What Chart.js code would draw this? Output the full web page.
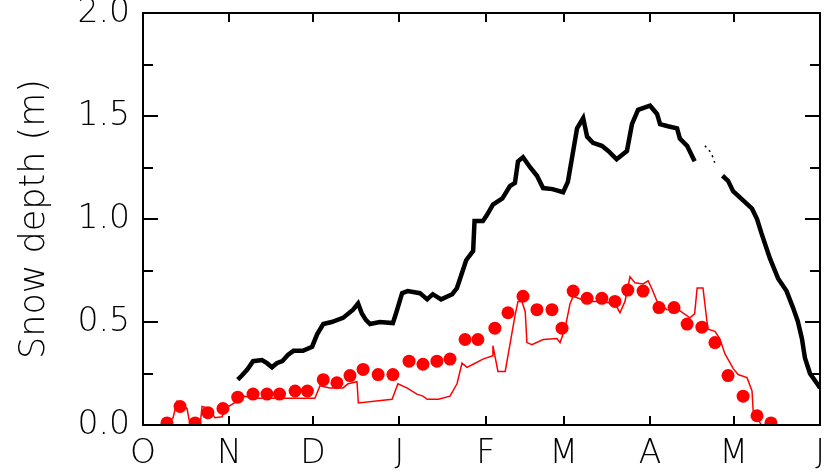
<!DOCTYPE html>
<html lang="en">
<head>
<meta charset="UTF-8">
<title>Snow depth</title>
<script src="https://cdn.jsdelivr.net/npm/chart.js"></script>
<style>
  body { margin: 0; background: #fff; }
</style>
</head>
<body>
<canvas id="snowChart" width="827" height="476"></canvas>
<script>
// days since 1 October, month boundaries
const monthDays = [0, 31, 61, 92, 123, 151, 182, 212, 243];
const monthLabels = ['O', 'N', 'D', 'J', 'F', 'M', 'A', 'M', 'J'];
const depthTicks = [0, 0.5, 1.0, 1.5, 2.0];

// black: measured snow depth (m), gap near the end of April
const obsDays = [34, 35.5, 37.5, 39.5, 42.7, 44.5, 46.3, 48, 50, 52, 54, 57.4, 60.7, 62.5, 64.7, 67.7, 71.8, 75.4, 77.2, 78.6, 80, 81.5, 85, 89.7, 91, 93, 95, 99.4, 102, 104, 107, 111, 112.7, 113.8, 116, 118.5, 119, 122, 123.5, 125.6, 129, 131.7, 133.5, 134.6, 136.4, 139, 141.4, 143.6, 147, 150.8, 152.5, 154.4, 155.8, 158, 159.4, 161.5, 164.7, 167, 170, 173.7, 175.5, 177.7, 182, 184.5, 185.6, 188.4, 191.7, 192.7, 195.3, 198, 200, 208, 210, 211.8, 215.4, 218.6, 220.4, 222, 225, 228, 231, 233.3, 235, 236.5, 237.6, 239.4, 242, 243];
const obsDepth = [0.22, 0.24, 0.27, 0.31, 0.315, 0.30, 0.28, 0.30, 0.31, 0.34, 0.36, 0.36, 0.38, 0.44, 0.49, 0.50, 0.52, 0.56, 0.59, 0.54, 0.51, 0.49, 0.50, 0.495, 0.55, 0.64, 0.65, 0.64, 0.61, 0.635, 0.61, 0.635, 0.665, 0.71, 0.80, 0.845, 0.99, 0.99, 1.02, 1.07, 1.10, 1.16, 1.175, 1.28, 1.30, 1.25, 1.21, 1.15, 1.145, 1.13, 1.18, 1.33, 1.44, 1.49, 1.40, 1.37, 1.355, 1.33, 1.29, 1.33, 1.46, 1.53, 1.55, 1.51, 1.46, 1.45, 1.44, 1.39, 1.355, 1.28, null, 1.21, 1.185, 1.135, 1.09, 1.05, 1.00, 0.93, 0.81, 0.71, 0.65, 0.57, 0.505, 0.42, 0.325, 0.25, 0.20, 0.18];
// sparse dotted bit inside the gap
const gapDays = [201.7, 204, 205.3];
const gapDepth = [1.355, 1.32, 1.27];

// red line: modelled depth
const modelDays = [6.8, 10.8, 12.2, 15.8, 16.9, 20.5, 21.2, 24, 25.8, 28.4, 29.4, 33.7, 36, 40.9, 58.9, 61.7, 63.5, 67, 71.8, 73.6, 76.8, 77.3, 89.4, 91.5, 94.7, 98.3, 100.5, 102, 106, 110.2, 112.7, 114.5, 116.3, 118.5, 122, 125.3, 125.6, 127.4, 130, 131.7, 133.5, 134.6, 136, 137.2, 137.8, 139.6, 143.6, 148.6, 149.7, 151.5, 153.3, 154.4, 159.4, 164, 169.4, 171.2, 173, 174.8, 176.6, 179.5, 181.3, 182.7, 184.5, 188, 192.7, 196.3, 198, 198.9, 201, 202.4, 202.8, 205.3, 207, 208.9, 211.8, 213.6, 216.8, 218.6, 219, 221.5, 222];
const modelDepth = [0, 0.035, 0.115, 0.08, 0, 0, 0.09, 0.08, 0.035, 0.04, 0.08, 0.115, 0.14, 0.13, 0.13, 0.13, 0.19, 0.18, 0.18, 0.2, 0.21, 0.107, 0.125, 0.2, 0.18, 0.15, 0.14, 0.125, 0.125, 0.14, 0.2, 0.3, 0.28, 0.295, 0.32, 0.335, 0.385, 0.26, 0.26, 0.39, 0.53, 0.6, 0.6, 0.55, 0.40, 0.39, 0.415, 0.42, 0.40, 0.47, 0.59, 0.625, 0.60, 0.60, 0.59, 0.545, 0.60, 0.72, 0.69, 0.685, 0.70, 0.66, 0.60, 0.56, 0.555, 0.52, 0.54, 0.665, 0.665, 0.505, 0.465, 0.455, 0.42, 0.345, 0.275, 0.245, 0.23, 0.165, 0.07, 0.01, 0];

// red dots: snow survey
const surveyDays = [8.6, 13.3, 18.7, 23.3, 28.7, 34, 39.5, 44.5, 49, 54.6, 59, 64.7, 69.6, 74.3, 79, 84.4, 89.7, 95.5, 100.5, 105.5, 110.2, 115.6, 120.2, 126.3, 131, 136.4, 141.4, 146.8, 150.4, 154.4, 159.4, 164.7, 169.4, 174, 179.5, 185.2, 190.6, 195.3, 200.6, 205.3, 210, 215.4, 220.4, 225.4];
const surveyDepth = [0.01, 0.09, 0.01, 0.06, 0.08, 0.135, 0.15, 0.15, 0.15, 0.165, 0.165, 0.22, 0.205, 0.24, 0.27, 0.245, 0.245, 0.31, 0.295, 0.31, 0.32, 0.415, 0.415, 0.47, 0.545, 0.625, 0.56, 0.56, 0.47, 0.65, 0.615, 0.615, 0.60, 0.655, 0.65, 0.57, 0.57, 0.49, 0.475, 0.40, 0.24, 0.14, 0.045, 0.01];

const pts = (xs, ys) => xs.map((x, i) => ({ x: x, y: ys[i] }));

const fontFamily = "'DejaVu Sans', sans-serif";

// frame with inward ticks on all four sides
const framePlugin = {
  id: 'frame',
  afterDatasetsDraw(chart) {
    const { ctx, chartArea: a, scales } = chart;
    ctx.save();
    ctx.strokeStyle = '#000';
    ctx.lineWidth = 2;
    ctx.strokeRect(a.left, a.top, a.right - a.left, a.bottom - a.top);
    ctx.beginPath();
    monthDays.forEach(d => {
      const px = Math.round(scales.x.getPixelForValue(d));
      ctx.moveTo(px, a.bottom); ctx.lineTo(px, a.bottom - 9);
      ctx.moveTo(px, a.top); ctx.lineTo(px, a.top + 9);
    });
    for (let v = 0.25; v < 2; v += 0.25) {
      const py = Math.round(scales.y.getPixelForValue(v));
      const len = (Math.abs(v * 2 - Math.round(v * 2)) < 1e-6) ? 15 : 10;
      ctx.moveTo(a.left, py); ctx.lineTo(a.left + len, py);
      ctx.moveTo(a.right, py); ctx.lineTo(a.right - len, py);
    }
    ctx.stroke();
    ctx.restore();
  }
};

const ctx = document.getElementById('snowChart').getContext('2d');
new Chart(ctx, {
  type: 'scatter',
  data: {
    datasets: [
      {
        label: 'model',
        data: pts(modelDays, modelDepth),
        showLine: true,
        borderColor: '#ff0000',
        borderWidth: 1.5,
        pointRadius: 0,
        tension: 0
      },
      {
        label: 'survey',
        data: pts(surveyDays, surveyDepth),
        showLine: false,
        backgroundColor: '#ff0000',
        borderColor: '#ff0000',
        pointRadius: 6.5,
        pointBorderWidth: 0
      },
      {
        label: 'observed',
        data: pts(obsDays, obsDepth),
        showLine: true,
        spanGaps: false,
        borderColor: '#000',
        borderWidth: 4.5,
        pointRadius: 0,
        tension: 0
      },
      {
        label: 'observed gap',
        data: pts(gapDays, gapDepth),
        showLine: true,
        borderColor: '#000',
        borderWidth: 1.5,
        borderDash: [2, 4],
        pointRadius: 0
      }
    ]
  },
  options: {
    responsive: false,
    animation: false,
    layout: { padding: { left: 0, right: 7, top: 13, bottom: 0 } },
    plugins: { legend: { display: false }, tooltip: { enabled: false } },
    scales: {
      x: {
        type: 'linear',
        min: 0,
        max: 243,
        grid: { display: false, drawTicks: false },
        border: { display: false },
        afterBuildTicks: s => { s.ticks = monthDays.map(v => ({ value: v })); },
        afterFit: s => { s.height = 51; s.paddingLeft = 0; s.paddingRight = 0; },
        ticks: {
          autoSkip: false,
          maxRotation: 0,
          padding: 10,
          color: '#000',
          font: { family: fontFamily, size: 33, weight: 200 },
          callback: (v, i) => monthLabels[i]
        }
      },
      y: {
        min: 0,
        max: 2,
        grid: { display: false, drawTicks: false },
        border: { display: false },
        afterBuildTicks: s => { s.ticks = depthTicks.map(v => ({ value: v })); },
        afterFit: s => { s.width = 143; s.paddingTop = 0; s.paddingBottom = 0; },
        ticks: {
          padding: 13,
          color: '#000',
          font: { family: fontFamily, size: 33, weight: 200 },
          callback: v => v.toFixed(1)
        },
        title: {
          display: true,
          text: 'Snow depth (m)',
          color: '#000',
          padding: { top: 14, bottom: 0 },
          font: { family: fontFamily, size: 35, weight: 200 }
        }
      }
    }
  },
  plugins: [framePlugin]
});
</script>
</body>
</html>
